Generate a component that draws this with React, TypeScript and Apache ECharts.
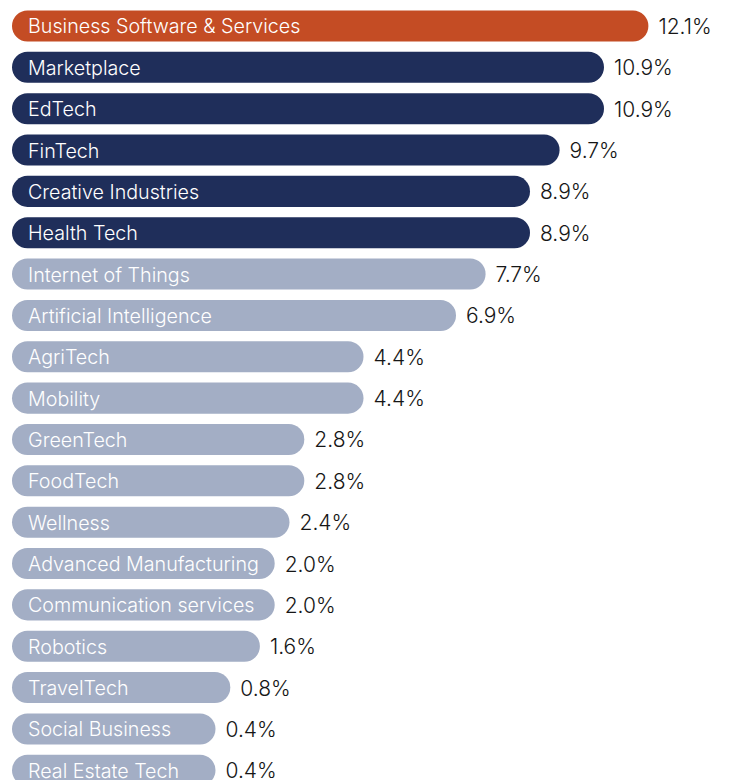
import React, { useEffect, useRef } from "react";
import * as echarts from "echarts";

const categories = [
  "Business Software & Services",
  "Marketplace",
  "EdTech",
  "FinTech",
  "Creative Industries",
  "Health Tech",
  "Internet of Things",
  "Artificial Intelligence",
  "AgriTech",
  "Mobility",
  "GreenTech",
  "FoodTech",
  "Wellness",
  "Advanced Manufacturing",
  "Communication services",
  "Robotics",
  "TravelTech",
  "Social Business",
  "Real Estate Tech",
];

const shares = [
  12.1, 10.9, 10.9, 9.7, 8.9, 8.9, 7.7, 6.9, 4.4, 4.4, 2.8, 2.8, 2.4, 2.0, 2.0,
  1.6, 0.8, 0.4, 0.4,
];

const X_MIN = -5.1;
const X_MAX = 14;
const ORANGE = "#C44C24";
const NAVY = "#1F2E5A";
const LIGHT = "#A3AEC5";
const FONT = "Inter, 'Noto Sans', sans-serif";

function barColor(i: number) {
  if (i === 0) return ORANGE;
  if (i <= 5) return NAVY;
  return LIGHT;
}

export default function App() {
  const ref = useRef<HTMLDivElement>(null);
  useEffect(() => {
    if (!ref.current) return;
    const chart = echarts.init(ref.current, null, { renderer: "svg" });
    chart.setOption({
      animation: false,
      grid: {
        left: 12,
        top: 5.3,
        width: 706.7,
        height: 785.65,
        outerBoundsMode: "none",
        containLabel: false,
      },
      xAxis: {
        type: "value",
        min: X_MIN,
        max: X_MAX,
        show: false,
      },
      yAxis: {
        type: "category",
        data: categories,
        inverse: true,
        show: false,
      },
      series: [
        {
          type: "custom",
          clip: false,
          encode: { x: 0, y: 1 },
          data: shares.map((v, i) => [v, i]),
          renderItem: (params: any, api: any) => {
            const v = api.value(0);
            const i = api.value(1);
            const end = api.coord([v, i]);
            const start = api.coord([X_MIN, i]);
            const band = api.size([0, 1])[1];
            const h = band * 0.75;
            return {
              type: "group",
              children: [
                {
                  type: "rect",
                  shape: {
                    x: start[0],
                    y: end[1] - h / 2,
                    width: end[0] - start[0],
                    height: h,
                    r: h / 2,
                  },
                  style: { fill: barColor(i) },
                },
                {
                  type: "text",
                  x: start[0] + 16,
                  y: end[1] + 0.5,
                  style: {
                    text: categories[i],
                    fill: "#FFFFFF",
                    fontSize: 19.7,
                    fontWeight: 300,
                    fontFamily: FONT,
                    verticalAlign: "middle",
                    align: "left",
                  },
                },
                {
                  type: "text",
                  x: end[0] + 10,
                  y: end[1] + 0.5,
                  style: {
                    text: v.toFixed(1) + "%",
                    fill: "#161616",
                    fontSize: 21,
                    fontWeight: 300,
                    fontFamily: FONT,
                    verticalAlign: "middle",
                    align: "left",
                  },
                },
              ],
            };
          },
        },
      ],
    });
    return () => chart.dispose();
  }, []);
  return (
    <div
      ref={ref}
      style={{ position: "fixed", left: 0, top: 0, width: 740, height: 780, background: "#fff" }}
    />
  );
}
